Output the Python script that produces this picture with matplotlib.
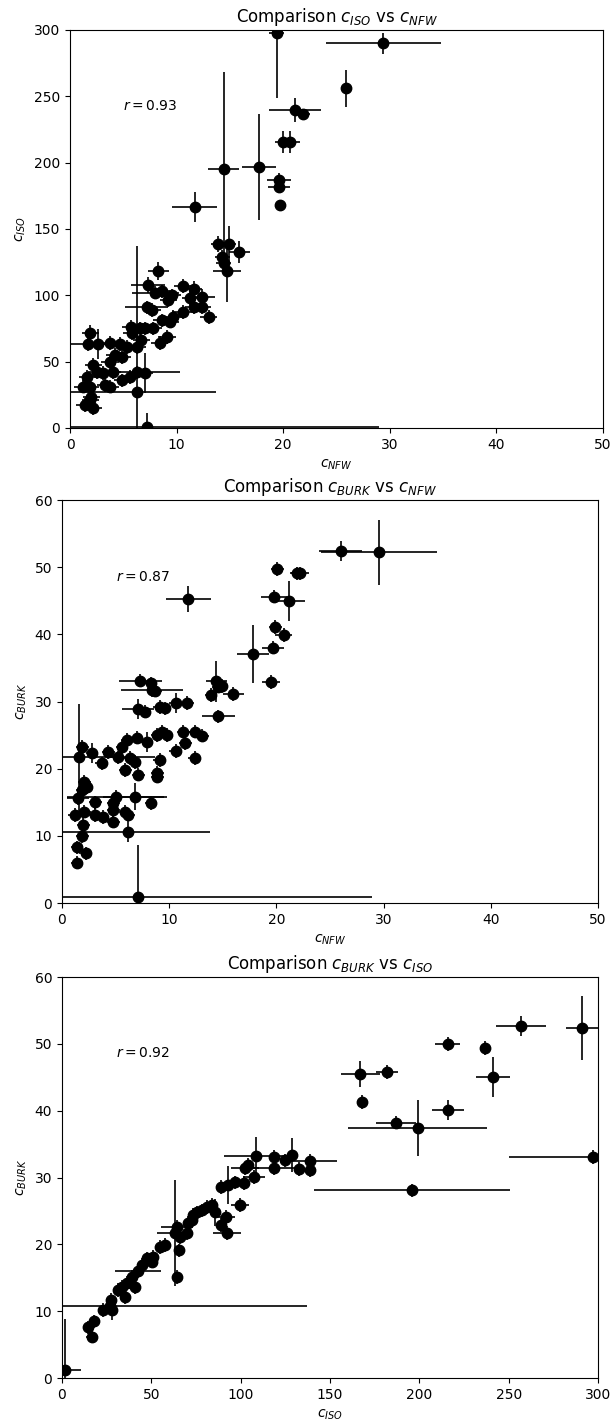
import matplotlib
matplotlib.use("Agg")
import matplotlib.pyplot as plt

# c_ISO vs c_NFW
nfw_a = [19.4, 29.4, 25.9, 21.1, 21.9, 20.0, 20.6, 17.7, 14.4, 11.7, 19.6, 19.6, 19.7,
         13.9, 14.9, 15.9, 14.3, 14.4, 14.7, 8.3, 7.3, 8.6, 9.2, 9.6, 10.6, 11.6, 11.3,
         12.4, 12.4, 11.6, 13.0, 10.6, 9.7, 9.4, 8.6, 7.2, 7.7, 8.0, 5.7, 5.8, 6.6, 7.0,
         7.8, 9.1, 8.4, 6.7, 6.3, 1.9, 1.7, 2.6, 3.75, 4.7, 5.3, 4.2, 4.9, 3.75, 2.2,
         2.5, 1.6, 3.1, 4.0, 4.9, 5.6, 6.3, 7.0, 6.3, 1.2, 1.9, 2.0, 1.4, 2.2, 1.9, 3.3,
         3.75, 7.2]
iso_a = [297.6, 290, 256, 239.6, 236.6, 215.5, 215.5, 197, 195, 166.5, 187, 181.6, 168,
         138.6, 138.6, 132.6, 129, 124, 118, 118.4, 108, 103, 96.5, 100, 107, 105, 98,
         99, 91, 91, 83.6, 87.4, 84, 80, 81, 91, 89, 102, 76, 71.6, 75, 75,
         75, 68.6, 64, 66, 61, 71.6, 63.3, 63.3, 64, 63.3, 61, 55, 53.5, 50, 47.5,
         42, 38.4, 41.4, 42, 36, 38.4, 42, 41.4, 27, 31, 31, 23, 17.3, 15, 21, 32.4,
         31, 1]
nfw_err_a = [0.7, 5.4, 0.5, 2.4, 0.6, 0.8, 1.0, 1.6, 1.5, 2.1, 1.1, 1.0, 0.5,
             0.7, 0.7, 1.0, 0.7, 0.7, 1.3, 1.0, 1.6, 0.8, 0.8, 0.8, 0.8, 0.8, 0.8,
             1.2, 0.8, 0.8, 0.8, 1.0, 0.8, 0.8, 0.8, 2.0, 0.8, 2.2, 0.8, 0.8, 0.8, 0.8,
             0.8, 0.8, 0.8, 0.8, 0.8, 0.8, 1.6, 0.8, 0.8, 0.8, 0.8, 0.8, 0.8, 0.8, 0.8,
             0.8, 0.8, 0.8, 0.8, 0.8, 0.8, 4.0, 0.8, 7.4, 0.8, 0.8, 0.8, 0.8, 0.8, 0.8, 0.8,
             0.8, 21.8]
iso_err_a = [48.6, 7.9, 14, 9, 4, 8.5, 8.5, 40, 73, 11, 5, 4, 3,
             6, 14, 8, 5, 5, 23, 7, 6, 5, 5, 5, 5, 6, 5,
             6, 5, 5, 5, 5, 5, 5, 5, 5, 5, 5, 5, 5, 5, 5,
             5, 5, 5, 5, 5, 6, 5, 11, 5, 5, 5, 5, 5, 5, 5,
             5, 5, 5, 5, 5, 5, 5, 15, 110, 5, 5, 5, 5, 5, 5, 5,
             5, 10]

# c_BURK vs c_NFW
nfw_b = [29.6, 26.0, 22.2, 20.1, 21.9, 11.8, 19.8, 21.2, 19.9, 20.7, 19.7, 17.8, 19.5,
         7.3, 8.3, 8.4, 8.7, 14.4, 14.6, 14.9, 13.9, 16.0, 7.1, 7.7, 9.1, 9.6, 10.6,
         11.7, 14.6, 6.1, 7.0, 7.9, 8.9, 9.3, 9.8, 11.3, 12.4, 13.1, 11.5, 10.6, 12.4,
         9.1, 5.6, 5.2, 6.3, 6.8, 5.9, 7.1, 8.9, 8.9, 4.3, 3.7, 2.8, 1.9, 1.6, 2.1,
         2.3, 1.9, 1.5, 5.0, 3.1, 4.8, 6.8, 8.3, 1.2, 2.1, 3.1, 3.8, 4.8, 4.8, 5.9,
         6.2, 2.0, 1.9, 1.4, 2.2, 1.4, 6.2, 7.1]
burk_b = [52.2, 52.4, 49.1, 49.7, 49.1, 45.3, 45.6, 45.0, 41.1, 39.9, 38.0, 37.1, 32.9,
          33.1, 32.7, 31.7, 31.6, 33.0, 32.2, 32.3, 31.0, 31.1, 28.9, 28.5, 29.2, 29.0, 29.8,
          29.8, 27.8, 24.3, 24.6, 24.0, 25.0, 25.5, 25.0, 25.5, 25.5, 24.9, 23.8, 22.6, 21.6,
          21.3, 23.2, 21.7, 21.6, 21.0, 19.8, 19.1, 19.4, 18.8, 22.5, 20.8, 22.3, 23.2, 21.7, 18.0,
          17.3, 16.8, 15.6, 15.8, 15.0, 14.9, 15.8, 14.9, 13.1, 13.6, 13.1, 12.8, 12.1, 13.8, 13.6,
          13.1, 11.6, 10.0, 8.3, 7.4, 6.0, 10.6, 0.9]
nfw_err_b = [5.4, 2.0, 0.8, 0.6, 0.6, 2.1, 1.2, 1.5, 0.6, 0.8, 1.0, 1.5, 0.8,
             2.0, 0.6, 2.9, 0.6, 1.0, 0.6, 0.6, 0.6, 1.0, 1.5, 0.6, 0.6, 0.6, 0.6,
             0.6, 1.5, 0.6, 0.6, 0.6, 0.6, 0.6, 0.6, 0.6, 0.6, 0.6, 0.6, 0.6, 0.6,
             0.6, 0.6, 0.6, 0.6, 0.6, 0.6, 0.6, 0.6, 0.6, 0.6, 0.6, 0.6, 0.6, 7.1, 0.6,
             0.6, 0.6, 1.0, 4.5, 0.6, 0.6, 3.0, 0.6, 0.6, 0.6, 0.6, 0.6, 0.6, 0.6, 0.6,
             0.6, 0.6, 0.6, 0.6, 0.6, 0.6, 7.6, 21.8]
burk_err_b = [4.8, 1.5, 1.0, 1.0, 1.0, 1.9, 1.0, 3.0, 1.0, 1.0, 1.0, 4.3, 1.0,
              1.0, 1.0, 1.0, 1.0, 3.0, 1.0, 1.0, 1.0, 1.0, 1.5, 1.0, 1.0, 1.0, 1.5,
              1.0, 1.0, 1.0, 1.0, 1.5, 1.0, 1.0, 1.0, 1.0, 1.0, 1.0, 1.0, 1.0, 1.0,
              1.0, 1.0, 1.0, 1.0, 1.0, 1.0, 1.0, 1.0, 1.0, 1.0, 1.0, 1.5, 1.0, 8.0, 1.0,
              1.0, 1.0, 1.0, 1.0, 1.0, 1.0, 2.0, 1.0, 1.0, 1.0, 1.0, 1.0, 1.0, 1.0, 1.0,
              1.0, 1.0, 1.0, 1.0, 1.0, 1.0, 1.5, 7.7]

# c_BURK vs c_ISO
iso_c = [291, 257, 216, 237, 241, 167, 182, 168, 216, 187, 199, 297, 196, 129, 125,
         139, 132.6, 139, 1.7, 27, 14.8, 18.0, 16.7, 22.9, 28, 27.6, 31.5, 35.3, 33.8,
         36.5, 40.9, 39.2, 42.5, 44.8, 47.6, 50.9, 50.4, 54.8, 57.6, 64.4, 65.5, 63.2, 64.4,
         66, 70, 70.5, 72.7, 73.3, 75.5, 78.3, 81, 83.9, 85.6, 89, 91.8, 92.3, 99.6, 89,
         92.9, 96.8, 101.8, 107.4, 102.4, 104, 108.6, 118.6, 118.6]
burk_c = [52.4, 52.7, 50.0, 49.4, 45.1, 45.5, 45.8, 41.3, 40.1, 38.2, 37.4, 33.1, 28.1, 33.4, 32.6,
          32.5, 31.3, 31.1, 1.2, 10.8, 7.6, 8.5, 6.2, 10.2, 10.2, 11.7, 13.2, 12.1, 13.6,
          14.2, 13.6, 15.1, 16.0, 16.9, 17.9, 18.1, 17.4, 19.6, 19.9, 15.1, 19.1, 21.7, 22.6,
          21.1, 21.7, 23.2, 23.6, 24.4, 24.8, 25.1, 25.6, 25.9, 24.8, 22.9, 24.1, 21.7, 25.9, 28.6,
          28.9, 29.3, 29.2, 30.1, 31.4, 31.9, 33.2, 33.1, 31.4]
iso_err_c = [9, 14, 7, 3, 9.5, 11, 6, 3, 9, 11, 39, 47, 55, 3, 3,
             15, 3, 3, 9, 110, 3, 3, 3, 3, 3, 3, 3, 3, 3,
             3, 3, 3, 13, 3, 3, 3, 3, 3, 3, 3, 3, 10, 9,
             3, 3, 3, 3, 3, 3, 3, 3, 3, 3, 3, 5, 8, 5, 3,
             3, 3, 3, 6, 8, 3, 18, 3, 12]
burk_err_c = [4.8, 1.5, 1.0, 1.0, 3.0, 2.0, 1.0, 1.0, 1.5, 1.0, 4.2, 1.0, 1.0, 2.5, 1.0,
              1.0, 1.0, 1.0, 7.7, 1.0, 1.0, 1.0, 1.0, 1.0, 1.5, 1.0, 1.0, 1.0, 1.0,
              1.0, 1.0, 1.0, 1.0, 1.0, 1.0, 1.0, 1.0, 1.0, 1.0, 1.0, 1.0, 8.0, 1.0,
              1.0, 1.0, 1.0, 1.0, 1.0, 1.0, 1.0, 1.0, 1.0, 2.0, 1.0, 1.0, 1.0, 1.0, 1.0,
              2.8, 1.0, 1.0, 1.0, 1.0, 1.0, 2.8, 1.0, 1.0]

r_values = [0.93, 0.87, 0.92]

fig = plt.figure(figsize=(6.13, 14.27))

panels = [
    ([0.1142, 0.7001, 0.8695, 0.2789], nfw_a, iso_a, nfw_err_a, iso_err_a,
     r"$c_{NFW}$", r"$c_{ISO}$", (0, 50), (0, 300)),
    ([0.1011, 0.3672, 0.8744, 0.2824], nfw_b, burk_b, nfw_err_b, burk_err_b,
     r"$c_{NFW}$", r"$c_{BURK}$", (0, 50), (0, 60)),
    ([0.1011, 0.0343, 0.8744, 0.2810], iso_c, burk_c, iso_err_c, burk_err_c,
     r"$c_{ISO}$", r"$c_{BURK}$", (0, 300), (0, 60)),
]

for (rect, x, y, xe, ye, xl, yl, xlim, ylim), r in zip(panels, r_values):
    ax = fig.add_axes(rect)
    ax.errorbar(x, y, xerr=xe, yerr=ye, fmt="o", color="black", ms=7.5,
                elinewidth=1.2)
    ax.set_xlim(*xlim)
    ax.set_ylim(*ylim)
    ax.set_xlabel(xl)
    ax.set_ylabel(yl)
    ax.set_title("Comparison " + yl + " vs " + xl)
    ax.text(0.1, 0.8, r"$r = %.2f$" % r, transform=ax.transAxes)

fig.savefig("out.png", dpi=100)
